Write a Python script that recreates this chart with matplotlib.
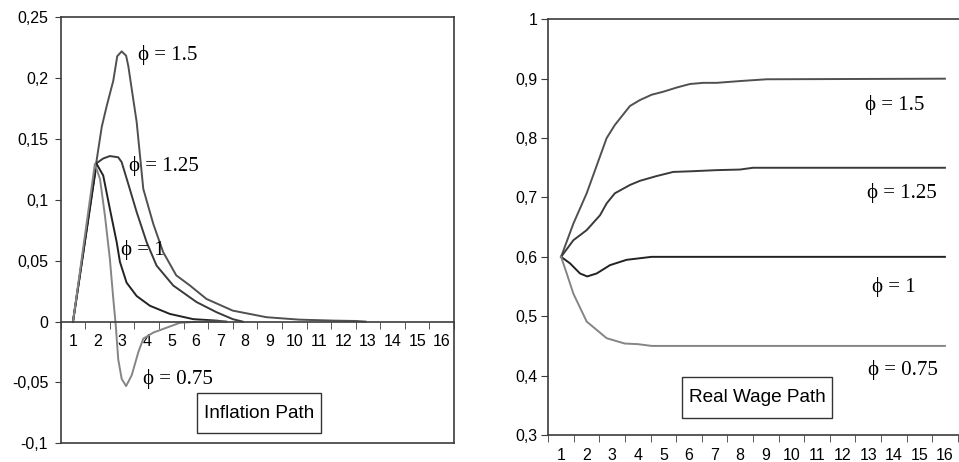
import matplotlib
matplotlib.use('Agg')
import matplotlib.pyplot as plt
from matplotlib.patches import Rectangle
from matplotlib.ticker import FixedLocator, FuncFormatter

plt.rcParams['font.family'] = ['Liberation Sans', 'DejaVu Sans']

# ---- data (x in period units, 1..16) ----
periods = list(range(1, 17))
period_labels = [str(p) for p in periods]

# inflation path
infl_x_150 = [1.0, 1.95, 2.17, 2.37, 2.64, 2.8, 2.98, 3.16, 3.25, 3.39, 3.59, 3.86, 4.27,
              4.67, 5.2, 5.76, 6.43, 7.5, 8.87, 10.2, 11.6, 12.5, 12.9]
infl_y_150 = [0.0, 0.131, 0.160, 0.177, 0.198, 0.218, 0.222, 0.2185, 0.21, 0.191, 0.164,
              0.109, 0.080, 0.057, 0.038, 0.0296, 0.0186, 0.009, 0.0036, 0.0016, 0.0008,
              0.0005, 0.0]
infl_x_125 = [1.0, 1.95, 2.23, 2.5, 2.84, 2.98, 3.25, 3.59, 4.0, 4.4, 5.08, 6.03, 6.84,
              7.5, 7.9]
infl_y_125 = [0.0, 0.130, 0.134, 0.136, 0.135, 0.131, 0.113, 0.090, 0.065, 0.046, 0.0296,
              0.016, 0.0077, 0.002, 0.0]
infl_x_100 = [1.0, 1.96, 2.23, 2.5, 2.78, 2.91, 3.18, 3.59, 4.13, 4.94, 5.89, 6.84, 7.2]
infl_y_100 = [0.0, 0.1296, 0.12, 0.0926, 0.065, 0.049, 0.032, 0.021, 0.013, 0.0063, 0.002,
              0.0008, 0.0]
infl_x_075 = [1.0, 1.89, 2.1, 2.3, 2.5, 2.64, 2.74, 2.84, 2.98, 3.16, 3.39, 3.66, 3.86,
              4.27, 4.81, 5.35, 6.16, 7.25]
infl_y_075 = [0.0, 0.1296, 0.117, 0.087, 0.0515, 0.0186, -0.003, -0.031, -0.047, -0.053,
              -0.044, -0.025, -0.014, -0.009, -0.005, -0.001, 0.0, 0.0]

# real wage path
wage_x_150 = [1.0, 1.48, 2.0, 2.52, 2.78, 3.1, 3.69, 4.08, 4.54, 4.99, 5.51, 6.03, 6.55,
              7.08, 7.99, 9.03, 16.0]
wage_y_150 = [0.6, 0.656, 0.707, 0.769, 0.80, 0.822, 0.854, 0.864, 0.873, 0.878, 0.885,
              0.891, 0.893, 0.893, 0.896, 0.899, 0.9]
wage_x_125 = [1.0, 1.48, 2.0, 2.52, 2.78, 3.1, 3.69, 4.08, 4.73, 5.38, 6.03, 7.08, 7.99,
              8.5, 16.0]
wage_y_125 = [0.6, 0.628, 0.645, 0.670, 0.690, 0.707, 0.721, 0.728, 0.736, 0.743, 0.744,
              0.746, 0.747, 0.75, 0.75]
wage_x_100 = [1.0, 1.35, 1.74, 2.02, 2.39, 2.91, 3.56, 4.54, 16.0]
wage_y_100 = [0.6, 0.589, 0.572, 0.567, 0.572, 0.586, 0.595, 0.6, 0.6]
wage_x_075 = [1.0, 1.22, 1.48, 2.0, 2.39, 2.78, 3.49, 4.0, 4.54, 16.0]
wage_y_075 = [0.6, 0.572, 0.538, 0.491, 0.477, 0.463, 0.454, 0.453, 0.45, 0.45]

phi_labels = ['\u03d5 = 1.5', '\u03d5 = 1.25', '\u03d5 = 1', '\u03d5 = 0.75']
line_colors = ['#505050', '#3a3a3a', '#222222', '#858585']
infl_label_pos = [(3.64, 0.2152), (3.28, 0.124), (2.95, 0.0548), (3.85, -0.0512)]
wage_label_pos = [(12.87, 0.8472), (12.95, 0.6985), (13.14, 0.5412), (12.98, 0.4009)]

W, H = 959, 462
fig = plt.figure(figsize=(W / 100, H / 100), dpi=100)

def frac(x0, y0, x1, y1):
    # pixel box (top-left origin) -> figure fraction rect
    return [x0 / W, 1 - y1 / H, (x1 - x0) / W, (y1 - y0) / H]

spine_col = '#3c3c3c'
serif = ['Liberation Serif', 'DejaVu Serif']

####### inflation panel #######
ax1 = fig.add_axes(frac(60.7, 17.3, 454, 443.3))
for xs, ys, c in zip([infl_x_150, infl_x_125, infl_x_100, infl_x_075],
                     [infl_y_150, infl_y_125, infl_y_100, infl_y_075], line_colors):
    ax1.plot(xs, ys, color=c, lw=1.4)
ax1.set_xlim(0.5, 16.5)
ax1.set_ylim(-0.1, 0.25)
ax1.spines['bottom'].set_position(('data', 0))
ax1.axhline(-0.1, color=spine_col, lw=1.2, clip_on=False)
for s in ax1.spines.values():
    s.set_color(spine_col)
    s.set_linewidth(1.2)
ax1.set_yticks([-0.1, -0.05, 0, 0.05, 0.1, 0.15, 0.2, 0.25])
ax1.yaxis.set_major_formatter(FuncFormatter(lambda v, p: ('%g' % round(v, 2)).replace('.', ',')))
ax1.set_xticks(periods)
ax1.set_xticklabels(period_labels)
ax1.xaxis.set_minor_locator(FixedLocator([p + 0.5 for p in range(0, 17)]))
ax1.tick_params(axis='x', which='major', length=0, pad=9, labelsize=11.5)
ax1.tick_params(axis='x', which='minor', length=5, direction='out', color=spine_col)
ax1.tick_params(axis='y', length=4, pad=5, labelsize=11.5, color=spine_col)
for (tx, ty), lab in zip(infl_label_pos, phi_labels):
    ax1.text(tx, ty, lab, family=serif, fontsize=15, ha='left', va='baseline')

####### real wage panel #######
ax2 = fig.add_axes(frac(548.3, 19.3, 959, 435))
for xs, ys, c in zip([wage_x_150, wage_x_125, wage_x_100, wage_x_075],
                     [wage_y_150, wage_y_125, wage_y_100, wage_y_075], line_colors):
    ax2.plot(xs, ys, color=c, lw=1.4)
ax2.set_xlim(0.5, 16.55)
ax2.set_ylim(0.3, 1.0)
ax2.spines['right'].set_visible(False)
for s in ax2.spines.values():
    s.set_color(spine_col)
    s.set_linewidth(1.2)
ax2.set_yticks([0.3, 0.4, 0.5, 0.6, 0.7, 0.8, 0.9, 1.0])
ax2.yaxis.set_major_formatter(FuncFormatter(lambda v, p: ('%g' % round(v, 2)).replace('.', ',')))
ax2.set_xticks(periods)
ax2.set_xticklabels(period_labels)
ax2.xaxis.set_minor_locator(FixedLocator([p + 0.5 for p in range(0, 17)]))
ax2.tick_params(axis='x', which='major', length=0, pad=9, labelsize=11.5)
ax2.tick_params(axis='x', which='minor', length=5, direction='out', color=spine_col)
ax2.tick_params(axis='y', length=5, pad=3, labelsize=11.5, color=spine_col)
for (tx, ty), lab in zip(wage_label_pos, phi_labels):
    ax2.text(tx, ty, lab, family=serif, fontsize=15, ha='left', va='baseline')

####### boxed titles #######
for (x0, y0, x1, y1), title in [((197.3, 393.3, 320.7, 433.3), 'Inflation Path'),
                                ((681.7, 377.3, 832.3, 417.7), 'Real Wage Path')]:
    fig.add_artist(Rectangle((x0 / W, 1 - y1 / H), (x1 - x0) / W, (y1 - y0) / H,
                             transform=fig.transFigure, fill=False, ec='#333333', lw=1.0))
    fig.text((x0 + x1) / 2 / W, 1 - (y0 + y1) / 2 / H, title, fontsize=13.7,
             ha='center', va='center')

fig.savefig('out.png', dpi=100)
